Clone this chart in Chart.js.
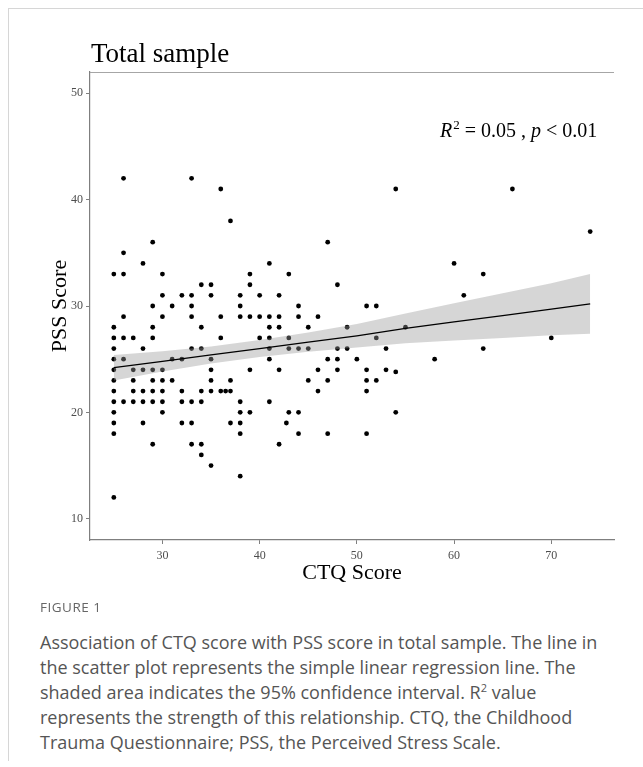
<!DOCTYPE html>
<html>
<head>
<meta charset="utf-8">
<script src="https://cdn.jsdelivr.net/npm/chart.js@4.4.1/dist/chart.umd.min.js"></script>
<style>
  body { margin: 0; background: #fff; width: 643px; height: 767px; overflow: hidden; position: relative; }
  .frame { position: absolute; left: 8px; top: 8px; width: 640px; height: 752px; border-left: 1px solid #d6d6d6; border-top: 1px solid #d6d6d6; }
  #wrap { position: absolute; left: 0; top: 0; width: 643px; height: 600px; }
  .figlabel { position: absolute; left: 40px; top: 598px; font-family: "Open Sans", sans-serif; font-size: 13.5px; color: #666; letter-spacing: 0.5px; }
  .caption { position: absolute; left: 40px; top: 630px; width: 603px; font-family: "Open Sans", sans-serif; font-size: 18px; line-height: 25px; color: #555; white-space: nowrap; }
  .caption sup { font-size: 11px; line-height: 0; }
</style>
</head>
<body>
<div class="frame"></div>
<div id="wrap"><canvas id="scatter"></canvas></div>
<div class="figlabel">FIGURE 1</div>
<div class="caption">Association of CTQ score with PSS score in total sample. The line in<br>the scatter plot represents the simple linear regression line. The<br>shaded area indicates the 95% confidence interval. R<sup>2</sup> value<br>represents the strength of this relationship. CTQ, the Childhood<br>Trauma Questionnaire; PSS, the Perceived Stress Scale.</div>
<script>
// CTQ score (x) and PSS score (y) for each participant
const ctq = [
  26, 33,
  36, 54, 66,
  37,
  74,
  29, 47,
  26,
  28, 41, 60,
  25, 26, 30, 39, 43, 63,
  34, 35, 39, 48,
  30, 32, 33, 35, 38, 40, 42, 61,
  29, 31, 33, 38, 44, 51, 52,
  26, 30, 33, 36, 38, 39, 40, 41, 42, 44, 46,
  25, 29, 34, 41, 42, 45, 49, 55,
  25, 26, 27, 29, 36, 40, 41, 43, 52, 70,
  25, 28, 33, 34, 41, 43, 44, 45, 48, 49, 53, 63,
  25, 26, 31, 32, 35, 41, 47, 48, 50, 58,
  25, 27, 28, 29, 30, 35, 39, 42, 46, 48, 51, 53, 54,
  25, 27, 29, 30, 31, 35, 37, 45, 47, 51, 52,
  25, 27, 28, 29, 30, 32, 34, 35, 36, 36.5, 37, 46, 51,
  25, 26, 27, 28, 29, 30, 32, 33, 34, 38, 41,
  25, 30, 38, 39, 43, 44, 54,
  25, 28, 32, 33, 37, 38, 42.75,
  25, 38, 44, 47, 51,
  29, 33, 34, 42,
  34,
  35,
  38,
  25
];
const pss = [
  42, 42,
  41, 41, 41,
  38,
  37,
  36, 36,
  35,
  34, 34, 34,
  33, 33, 33, 33, 33, 33,
  32, 32, 32, 32,
  31, 31, 31, 31, 31, 31, 31, 31,
  30, 30, 30, 30, 30, 30, 30,
  29, 29, 29, 29, 29, 29, 29, 29, 29, 29, 29,
  28, 28, 28, 28, 28, 28, 28, 28,
  27, 27, 27, 27, 27, 27, 27, 27, 27, 27,
  26, 26, 26, 26, 26, 26, 26, 26, 26, 26, 26, 26,
  25, 25, 25, 25, 25, 25, 25, 25, 25, 25,
  24, 24, 24, 24, 24, 24, 24, 24, 24, 24, 24, 24, 23.8,
  23, 23, 23, 23, 23, 23, 23, 23, 23, 23, 23,
  22, 22, 22, 22, 22, 22, 22, 22, 22, 22, 22, 22, 22,
  21, 21, 21, 21, 21, 21, 21, 21, 21, 21, 21,
  20, 20, 20, 20, 20, 20, 20,
  19, 19, 19, 19, 19, 19, 19,
  18, 18, 18, 18, 18,
  17, 17, 17, 17,
  16,
  15,
  14,
  12
];

// regression line and 95% CI band
const fitX     = [25, 30, 35, 40, 45, 50, 55, 60, 65, 70, 74];
const fitY     = [24.2, 24.8, 25.4, 26.0, 26.6, 27.2, 27.9, 28.5, 29.1, 29.7, 30.2];
const ciUpper  = [25.4, 25.75, 26.2, 26.8, 27.5, 28.3, 29.3, 30.25, 31.2, 32.15, 33.0];
const ciLower  = [23.0, 23.85, 24.6, 25.2, 25.7, 26.1, 26.5, 26.75, 27.0, 27.25, 27.4];

const xTicks = [30, 40, 50, 60, 70];
const yTicks = [10, 20, 30, 40, 50];

const serif = '"Liberation Serif", "Times New Roman", serif';

const pts = ctq.map((x, i) => ({ x: x, y: pss[i] }));
const toXY = (ys) => fitX.map((x, i) => ({ x: x, y: ys[i] }));

const extras = {
  id: 'extras',
  afterDraw(chart) {
    const ctx = chart.ctx;
    const a = chart.chartArea;
    ctx.save();
    // top border line
    ctx.strokeStyle = '#a6a6a6';
    ctx.lineWidth = 1.2;
    ctx.beginPath();
    ctx.moveTo(a.left, a.top + 0.5);
    ctx.lineTo(a.right, a.top + 0.5);
    ctx.stroke();

    // title
    ctx.fillStyle = '#000';
    ctx.textBaseline = 'alphabetic';
    ctx.font = '27px ' + serif;
    ctx.fillText('Total sample', 91, 62);

    // R^2 annotation
    let x = 440, y = 137;
    const parts = [
      ['italic 20px ' + serif, 'R', 0],
      ['13px ' + serif, '2', -8],
      ['20px ' + serif, ' = 0.05 , ', 0],
      ['italic 20px ' + serif, 'p', 0],
      ['20px ' + serif, ' < 0.01', 0]
    ];
    parts.forEach(([f, t, dy]) => {
      ctx.font = f;
      ctx.fillText(t, x, y + dy);
      x += ctx.measureText(t).width + (t === 'R' ? 1 : 0);
    });
    ctx.restore();
  }
};

new Chart(document.getElementById('scatter'), {
  type: 'scatter',
  data: {
    datasets: [
      {
        label: 'points',
        data: pts,
        backgroundColor: '#000',
        borderWidth: 0,
        pointRadius: 2.4,
        order: 3
      },
      {
        label: 'ci upper',
        type: 'line',
        data: toXY(ciUpper),
        borderWidth: 0,
        pointRadius: 0,
        fill: '+1',
        backgroundColor: 'rgba(153,153,153,0.4)',
        order: 2
      },
      {
        label: 'ci lower',
        type: 'line',
        data: toXY(ciLower),
        borderWidth: 0,
        pointRadius: 0,
        fill: false,
        order: 2
      },
      {
        label: 'fit',
        type: 'line',
        data: toXY(fitY),
        borderColor: '#000',
        borderWidth: 1.3,
        pointRadius: 0,
        fill: false,
        order: 1
      }
    ]
  },
  options: {
    responsive: true,
    maintainAspectRatio: false,
    animation: false,
    layout: { padding: { left: 0, top: 72, right: 29, bottom: 0 } },
    plugins: {
      legend: { display: false },
      tooltip: { enabled: false }
    },
    scales: {
      x: {
        type: 'linear',
        min: 22.55,
        max: 76.45,
        afterBuildTicks: (s) => { s.ticks = xTicks.map(v => ({ value: v })); },
        afterFit: (s) => { s.height = 60; },
        border: { display: true, color: '#7f7f7f', width: 1.2 },
        grid: { display: true, drawOnChartArea: false, drawTicks: true, tickLength: 4, color: '#7f7f7f' },
        ticks: { color: '#4d4d4d', font: { family: serif, size: 12 }, padding: 5, maxRotation: 0 },
        title: { display: true, text: 'CTQ Score', color: '#000', font: { family: serif, size: 22 }, padding: { top: 0, bottom: 14 } }
      },
      y: {
        type: 'linear',
        min: 8,
        max: 52,
        afterBuildTicks: (s) => { s.ticks = yTicks.map(v => ({ value: v })); },
        afterFit: (s) => { s.width = 90; },
        border: { display: true, color: '#7f7f7f', width: 1.2 },
        grid: { display: true, drawOnChartArea: false, drawTicks: true, tickLength: 4, color: '#7f7f7f' },
        ticks: { color: '#4d4d4d', font: { family: serif, size: 12 }, padding: 3 },
        title: { display: true, text: 'PSS Score', color: '#000', font: { family: serif, size: 22 }, padding: { top: 47, bottom: 0 } }
      }
    }
  },
  plugins: [extras]
});
</script>
</body>
</html>
